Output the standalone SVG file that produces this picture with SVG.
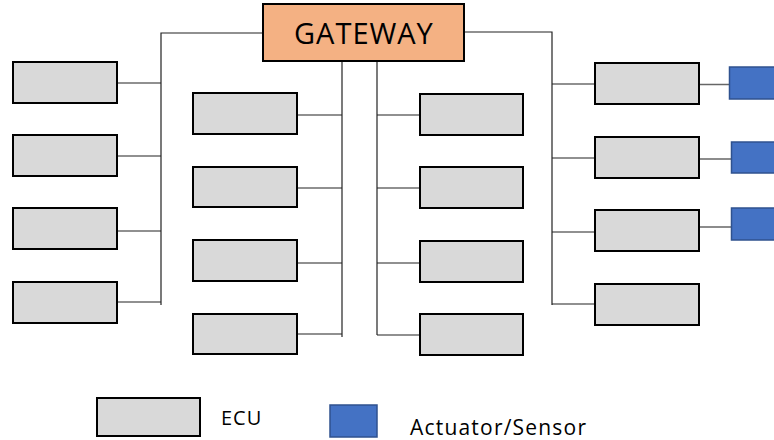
<svg xmlns="http://www.w3.org/2000/svg" width="774" height="440" viewBox="0 0 774 440">
  <style>
    .ecu { fill: #d9d9d9; stroke: #000; stroke-width: 2; }
    .act { fill: #4472c4; stroke: #2f528f; stroke-width: 1.5; }
    .gw { fill: #f4b183; stroke: #000; stroke-width: 2; }
    .wire { fill: none; stroke: #222; stroke-width: 1.2; }
    .wire2 { fill: none; stroke: #666; stroke-width: 1.5; }
    .label { font-family: "Open Sans", "Liberation Sans", sans-serif; fill: #000; }
  </style>
  <rect width="774" height="440" fill="#fff"/>

  <!-- bus wiring -->
  <g id="connectors">
    <!-- gateway to left trunk -->
    <polyline class="wire" points="263,33 161,33 161,305"/>
    <line class="wire" x1="117" y1="83" x2="161" y2="83"/>
    <line class="wire" x1="117" y1="156" x2="161" y2="156"/>
    <line class="wire" x1="117" y1="231" x2="161" y2="231"/>
    <line class="wire" x1="117" y1="302" x2="161" y2="302"/>
    <!-- gateway to right trunk -->
    <polyline class="wire" points="464,32 552,32 552,305"/>
    <line class="wire" x1="552" y1="84" x2="595" y2="84"/>
    <line class="wire" x1="552" y1="158" x2="595" y2="158"/>
    <line class="wire" x1="552" y1="232" x2="595" y2="232"/>
    <line class="wire" x1="552" y1="304" x2="595" y2="304"/>
    <!-- centre trunks -->
    <line class="wire" x1="342" y1="61" x2="342" y2="337"/>
    <line class="wire" x1="297" y1="115" x2="342" y2="115"/>
    <line class="wire" x1="297" y1="188" x2="342" y2="188"/>
    <line class="wire" x1="297" y1="263" x2="342" y2="263"/>
    <line class="wire" x1="297" y1="334" x2="342" y2="334"/>
    <line class="wire" x1="377" y1="61" x2="377" y2="335"/>
    <line class="wire" x1="377" y1="115" x2="420" y2="115"/>
    <line class="wire" x1="377" y1="188" x2="420" y2="188"/>
    <line class="wire" x1="377" y1="263" x2="420" y2="263"/>
    <line class="wire" x1="377" y1="335" x2="420" y2="335"/>
    <!-- ECU to actuator/sensor links -->
    <line class="wire2" x1="699" y1="84.5" x2="729" y2="84.5"/>
    <line class="wire2" x1="699" y1="159" x2="731" y2="159"/>
    <line class="wire2" x1="699" y1="227" x2="731" y2="227"/>
  </g>

  <g id="gateway">
    <rect class="gw" x="263" y="4" width="201" height="57"/>
    <text class="label" x="294" y="44" font-size="29" letter-spacing="1">GATEWAY</text>
  </g>

  <!-- left column -->
  <g id="ecu-l1"><rect class="ecu" x="13" y="62" width="104" height="41"/></g>
  <g id="ecu-l2"><rect class="ecu" x="13" y="135" width="104" height="41"/></g>
  <g id="ecu-l3"><rect class="ecu" x="13" y="208" width="104" height="41"/></g>
  <g id="ecu-l4"><rect class="ecu" x="13" y="282" width="104" height="41"/></g>

  <!-- centre-left column -->
  <g id="ecu-cl1"><rect class="ecu" x="193" y="93" width="104" height="41"/></g>
  <g id="ecu-cl2"><rect class="ecu" x="193" y="167" width="104" height="40"/></g>
  <g id="ecu-cl3"><rect class="ecu" x="193" y="240" width="104" height="41"/></g>
  <g id="ecu-cl4"><rect class="ecu" x="193" y="314" width="104" height="40"/></g>

  <!-- centre-right column -->
  <g id="ecu-cr1"><rect class="ecu" x="420" y="94" width="103" height="41"/></g>
  <g id="ecu-cr2"><rect class="ecu" x="420" y="167" width="103" height="41"/></g>
  <g id="ecu-cr3"><rect class="ecu" x="420" y="241" width="103" height="41"/></g>
  <g id="ecu-cr4"><rect class="ecu" x="420" y="314" width="103" height="41"/></g>

  <!-- right column -->
  <g id="ecu-r1"><rect class="ecu" x="595" y="63" width="104" height="41"/></g>
  <g id="ecu-r2"><rect class="ecu" x="595" y="137" width="104" height="41"/></g>
  <g id="ecu-r3"><rect class="ecu" x="595" y="210" width="104" height="41"/></g>
  <g id="ecu-r4"><rect class="ecu" x="595" y="284" width="104" height="41"/></g>

  <!-- actuators / sensors -->
  <g id="act-1"><rect class="act" x="729.5" y="67" width="60" height="32"/></g>
  <g id="act-2"><rect class="act" x="731.5" y="142" width="60" height="31"/></g>
  <g id="act-3"><rect class="act" x="731.5" y="208" width="60" height="32"/></g>

  <!-- legend -->
  <g id="legend-ecu">
    <rect class="ecu" x="97" y="398" width="103" height="38"/>
    <text class="label" x="221" y="424.5" font-size="20" letter-spacing="1">ECU</text>
  </g>
  <g id="legend-actuator">
    <rect class="act" x="330" y="405" width="47" height="32"/>
    <text class="label" x="410" y="434.5" font-size="21" letter-spacing="1.2">Actuator/Sensor</text>
  </g>
</svg>
